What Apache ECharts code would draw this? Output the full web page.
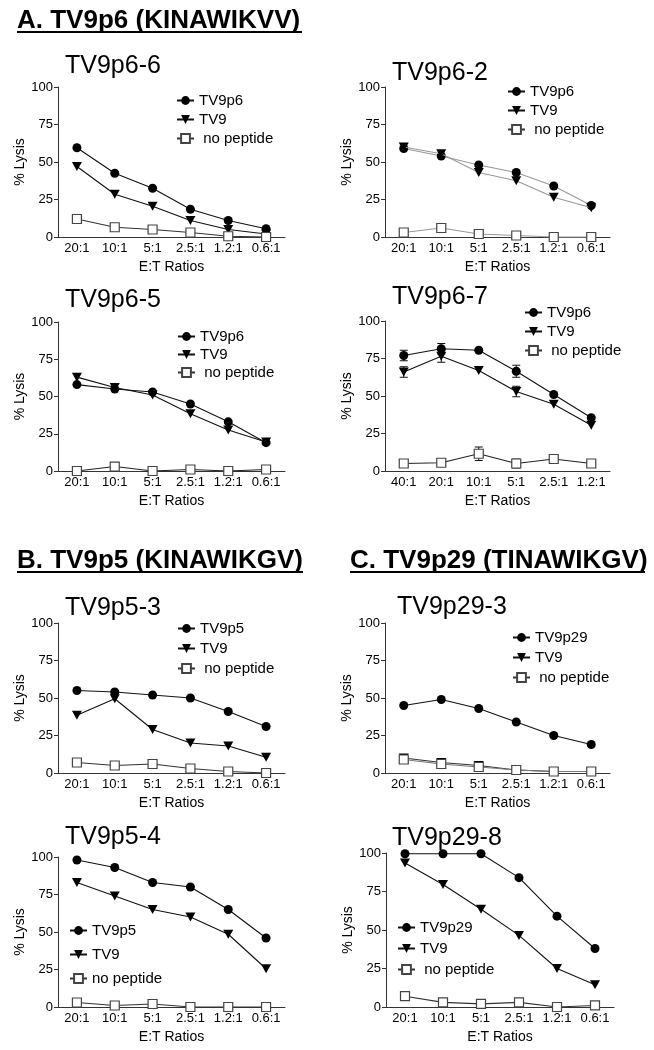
<!DOCTYPE html>
<html>
<head>
<meta charset="utf-8">
<script src="https://cdn.jsdelivr.net/npm/echarts@6/dist/echarts.min.js"></script>
<style>
html,body{margin:0;padding:0;background:#fff;}
#chart{width:654px;height:1050px;}
</style>
</head>
<body>
<div id="chart"></div>
<script>
// ---------- DATA ----------
const cats6 = ['20:1', '10:1', '5:1', '2.5:1', '1.2:1', '0.6:1'];
const cats7 = ['40:1', '20:1', '10:1', '5:1', '2.5:1', '1.2:1'];
const yTicks = [0, 25, 50, 75, 100];

// A. TV9p6-6
const p1TV9p6 = [59.5, 42.5, 32.5, 18.5, 11, 5.5];
const p1TV9 = [47, 28.5, 20.5, 11, 5, 2];
const p1None = [12, 6.5, 5, 3, 0.5, 0];
// A. TV9p6-2
const p2TV9p6 = [59, 54, 48, 43, 34, 21];
const p2TV9 = [60, 55.5, 43, 37.5, 26.5, 19.5];
const p2None = [3, 6, 2, 1, 0, 0];
// A. TV9p6-5
const p3TV9p6 = [58, 55, 53, 45, 33, 19];
const p3TV9 = [63, 56, 51, 38.5, 27.5, 19.5];
const p3None = [0, 3, 0, 1, 0, 1];
// A. TV9p6-7 (with error bars)
const p4TV9p6 = [77, 81.5, 80.5, 66.5, 51, 35.5];
const p4TV9p6Err = [3.5, 3.5, 0, 4, 0, 0];
const p4TV9 = [66, 76.5, 67, 53, 44.5, 30.5];
const p4TV9Err = [3.5, 4, 0, 3.5, 0, 0];
const p4None = [5, 5.5, 11.5, 5, 8, 5];
const p4NoneErr = [0, 0, 4.5, 3, 0, 0];
// B. TV9p5-3
const p5TV9p5 = [55, 54, 52, 50, 41, 31];
const p5TV9 = [38.5, 49.5, 29, 20, 18, 10.5];
const p5None = [7, 5, 6, 3, 1, 0];
// C. TV9p29-3
const p6TV9p29 = [45, 49, 43, 34, 25, 19];
const p6TV9 = [10, 7, 5, 2, 1, 1];
const p6None = [9, 6, 4, 2, 1, 1];
// B. TV9p5-4
const p7TV9p5 = [98, 93, 83, 80, 65, 46];
const p7TV9 = [83, 74, 65, 60, 48.5, 25.5];
const p7None = [3, 1, 2, 0, 0, 0];
// C. TV9p29-8
const p8TV9p29 = [99.5, 99.5, 99.5, 84, 59, 38];
const p8TV9 = [93.5, 79.5, 63.5, 46.5, 25, 14.5];
const p8None = [7, 3, 2, 3, 0, 1];

const headers = ['A. TV9p6 (KINAWIKVV)', 'B. TV9p5 (KINAWIKGV)', 'C. TV9p29 (TINAWIKGV)'];
const xName = 'E:T Ratios';
const yName = '% Lysis';

// ---------- LAYOUT ----------
const FONT = '"Liberation Sans", Arial, Helvetica, sans-serif';
const panels = [
  {title: 'TV9p6-6', cats: cats6, names: ['TV9p6', 'TV9', ' no peptide'], data: [p1TV9p6, p1TV9, p1None],
   grid: {left: 58, top: 87, width: 227, height: 150}, tpos: [65, 66], leg: {left: 176, top: 93, gap: 4},
   lc: ['#111', '#111', '#333']},
  {title: 'TV9p6-2', cats: cats6, names: ['TV9p6', 'TV9', ' no peptide'], data: [p2TV9p6, p2TV9, p2None],
   grid: {left: 385, top: 87, width: 225, height: 150}, tpos: [392, 73], leg: {left: 507, top: 84, gap: 4},
   lc: ['#999', '#999', '#999']},
  {title: 'TV9p6-5', cats: cats6, names: ['TV9p6', 'TV9', ' no peptide'], data: [p3TV9p6, p3TV9, p3None],
   grid: {left: 58, top: 322, width: 227, height: 149}, tpos: [65, 300], leg: {left: 177, top: 329, gap: 3},
   lc: ['#111', '#111', '#222']},
  {title: 'TV9p6-7', cats: cats7, names: ['TV9p6', 'TV9', ' no peptide'], data: [p4TV9p6, p4TV9, p4None],
   err: [p4TV9p6Err, p4TV9Err, p4NoneErr],
   grid: {left: 385, top: 321, width: 225, height: 150}, tpos: [392, 297], leg: {left: 524, top: 305, gap: 4},
   lc: ['#111', '#111', '#222']},
  {title: 'TV9p5-3', cats: cats6, names: ['TV9p5', 'TV9', ' no peptide'], data: [p5TV9p5, p5TV9, p5None],
   grid: {left: 58, top: 623, width: 227, height: 150}, tpos: [65, 608], leg: {left: 177, top: 621, gap: 5},
   lc: ['#111', '#111', '#333']},
  {title: 'TV9p29-3', cats: cats6, names: ['TV9p29', 'TV9', ' no peptide'], data: [p6TV9p29, p6TV9, p6None],
   grid: {left: 385, top: 623, width: 225, height: 150}, tpos: [397, 607], leg: {left: 512, top: 630, gap: 5},
   lc: ['#111', '#333', '#777']},
  {title: 'TV9p5-4', cats: cats6, names: ['TV9p5', 'TV9', 'no peptide'], data: [p7TV9p5, p7TV9, p7None],
   grid: {left: 58, top: 857, width: 227, height: 150}, tpos: [65, 837], leg: {left: 69, top: 923, gap: 9},
   lc: ['#111', '#111', '#333']},
  {title: 'TV9p29-8', cats: cats6, names: ['TV9p29', 'TV9', ' no peptide'], data: [p8TV9p29, p8TV9, p8None],
   grid: {left: 386, top: 853, width: 228, height: 154}, tpos: [392, 838], leg: {left: 397, top: 920, gap: 6},
   lc: ['#111', '#111', '#333']}
];
const headerPos = [
  {x: 17, y: 21, ux2: 302, uy: 32},
  {x: 17, y: 561, ux2: 303, uy: 572},
  {x: 350, y: 561, ux2: 645, uy: 572}
];

const symbols = [
  {symbol: 'circle', size: 9, fill: '#000', stroke: '#000'},
  {symbol: 'path://M0,0 L10,0 L5,9 Z', size: [10, 9], fill: '#000', stroke: '#000'},
  {symbol: 'rect', size: 9, fill: '#fff', stroke: '#444'}
];

const grids = [], xAxes = [], yAxes = [], series = [], legends = [], graphics = [];

function errRender(params, api) {
  const xi = api.value(0), y = api.value(1), e = api.value(2);
  if (!e) return null;
  const t = api.coord([xi, y + e]);
  const b = api.coord([xi, y - e]);
  const w = 4;
  const st = {stroke: '#111', lineWidth: 1};
  return {type: 'group', children: [
    {type: 'line', shape: {x1: t[0], y1: t[1], x2: b[0], y2: b[1]}, style: st},
    {type: 'line', shape: {x1: t[0] - w, y1: t[1], x2: t[0] + w, y2: t[1]}, style: st},
    {type: 'line', shape: {x1: b[0] - w, y1: b[1], x2: b[0] + w, y2: b[1]}, style: st}
  ]};
}

panels.forEach((p, i) => {
  grids.push(Object.assign({containLabel: false}, p.grid));
  xAxes.push({
    type: 'category', gridIndex: i, data: p.cats, boundaryGap: true,
    axisLine: {lineStyle: {color: '#333', width: 1}},
    axisTick: {show: false},
    axisLabel: {color: '#000', fontSize: 13, fontFamily: FONT, margin: 5, interval: 0},
    name: xName, nameLocation: 'middle', nameGap: 23,
    nameTextStyle: {color: '#000', fontSize: 14, fontFamily: FONT}
  });
  yAxes.push({
    type: 'value', gridIndex: i, min: 0, max: 100, interval: 25,
    axisLine: {show: true, lineStyle: {color: '#333', width: 1}},
    axisTick: {show: true, length: 4, lineStyle: {color: '#333'}},
    splitLine: {show: false},
    axisLabel: {color: '#000', fontSize: 13, fontFamily: FONT, margin: 5,
      formatter: v => (yTicks.indexOf(v) >= 0 ? String(v) : '')},
    name: yName, nameLocation: 'middle', nameRotate: 90, nameGap: 31,
    nameTextStyle: {color: '#000', fontSize: 14, fontFamily: FONT}
  });
  p.data.forEach((vals, k) => {
    const s = symbols[k];
    series.push({
      type: 'line', name: p.names[k], xAxisIndex: i, yAxisIndex: i,
      data: vals, symbol: s.symbol, symbolSize: s.size, showAllSymbol: true, clip: false,
      itemStyle: {color: s.fill, borderColor: s.stroke, borderWidth: k === 2 ? 1.2 : 0, opacity: 1},
      lineStyle: {color: p.lc[k], width: 1.1},
      emphasis: {disabled: true},
      z: 3 + k, animation: false
    });
    if (p.err) {
      series.push({
        type: 'custom', xAxisIndex: i, yAxisIndex: i, renderItem: errRender,
        data: vals.map((v, j) => [j, v, p.err[k][j]]), z: 2, silent: true, animation: false
      });
    }
  });
  legends.push({
    orient: 'vertical', left: p.leg.left, top: p.leg.top, itemGap: p.leg.gap,
    itemWidth: 17, itemHeight: 11, padding: 0, selectedMode: false,
    data: p.names,
    textStyle: {color: '#000', fontSize: 15, fontFamily: FONT, padding: [0, 0, 0, 0]}
  });
  graphics.push({
    type: 'text', silent: true,
    style: {text: p.title, x: p.tpos[0], y: p.tpos[1], align: 'left', verticalAlign: 'middle',
      font: '25px ' + FONT, fill: '#000'}
  });
});

headers.forEach((h, i) => {
  const hp = headerPos[i];
  graphics.push({
    type: 'text', silent: true,
    style: {text: h, x: hp.x, y: hp.y, align: 'left', verticalAlign: 'middle',
      font: 'bold 26px ' + FONT, fill: '#000'}
  });
  graphics.push({
    type: 'line', silent: true,
    shape: {x1: hp.x, y1: hp.uy, x2: hp.ux2, y2: hp.uy},
    style: {stroke: '#000', lineWidth: 2}
  });
});

const chart = echarts.init(document.getElementById('chart'), null, {renderer: 'canvas'});
chart.setOption({
  backgroundColor: '#fff',
  animation: false,
  grid: grids, xAxis: xAxes, yAxis: yAxes, series: series,
  legend: legends, graphic: graphics
});
</script>
</body>
</html>
